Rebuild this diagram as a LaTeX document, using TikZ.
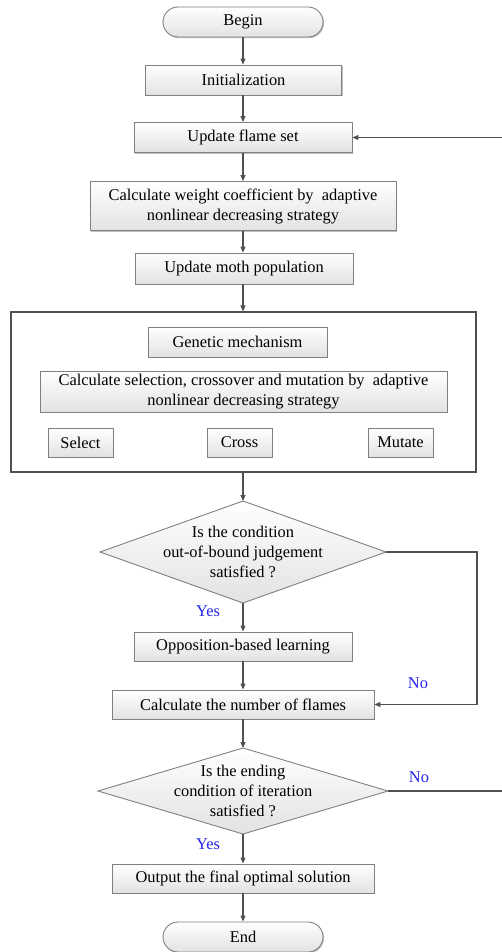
\documentclass[tikz,border=0pt]{standalone}
\usepackage{fontspec}
\setmainfont{Liberation Serif}
\usetikzlibrary{arrows.meta,shadows,calc}
\definecolor{lc}{HTML}{505050}
\definecolor{bc}{HTML}{808080}
\definecolor{boxbot}{HTML}{E2E2E2}
\definecolor{lblblue}{HTML}{2323E6}
\tikzset{
  proc/.style={draw=bc, line width=0.9pt, top color=white, bottom color=boxbot,
    inner sep=0pt, align=center, font=\fontsize{16.4}{20}\selectfont,
    drop shadow={shadow xshift=1pt, shadow yshift=-1.2pt, opacity=0.25, fill=black}},
  term/.style={proc, rounded corners=15pt},
  conn/.style={draw=lc, line width=1.1pt, -{Triangle[length=6pt,width=5pt]}},
  plain/.style={draw=lc, line width=1.1pt},
  txt/.style={inner sep=0pt, align=center, font=\fontsize{16.4}{20}\selectfont},
  lbl/.style={inner sep=0pt, text=lblblue, font=\fontsize{16.4}{20}\selectfont},
}
\begin{document}
\begin{tikzpicture}[x=1pt,y=-1pt]
\useasboundingbox (0,0) rectangle (501,952);
% boxes
\node[term, minimum width=160, minimum height=30] (begin) at (243,22) {Begin};
\node[proc, minimum width=196, minimum height=30] (init) at (243.5,80) {Initialization};
\node[proc, minimum width=218, minimum height=30] (flame) at (243,137.5) {Update flame set};
\node[proc, minimum width=306, minimum height=49] (weight) at (243,206) {Calculate weight coefficient by \ adaptive\\ nonlinear decreasing strategy};
\node[proc, minimum width=218, minimum height=31] (moth) at (244,268.5) {Update moth population};
% big box
\node[draw=lc, line width=1.1pt, minimum width=465, minimum height=160, inner sep=0pt] (big) at (243.5,392) {};
\node[proc, minimum width=179, minimum height=30] (gen) at (237.5,342) {Genetic mechanism};
\node[proc, minimum width=407, minimum height=41] (sel) at (243.5,391.5) {Calculate selection, crossover and mutation by \ adaptive\\ nonlinear decreasing strategy};
\node[proc, minimum width=65, minimum height=29] (select) at (80.5,442.5) {Select};
\node[proc, minimum width=65, minimum height=29] (cross) at (239.5,442.5) {Cross};
\node[proc, minimum width=65, minimum height=29] (mutate) at (400.5,442.5) {Mutate};
% diamond 1
\coordinate (d1) at (243,552);
\coordinate (d1n) at (243,501);
\coordinate (d1s) at (243,603);
\coordinate (d1e) at (386,552);
\coordinate (d1w) at (100,552);
\shade[top color=white, bottom color=boxbot] (d1n) -- (d1e) -- (d1s) -- (d1w) -- cycle;
\draw[draw=bc, line width=0.9pt] (d1n) -- (d1e) -- (d1s) -- (d1w) -- cycle;
\node[txt] (d1t) at (d1) {Is the condition\\ out-of-bound judgement\\ satisfied ?};
\node[proc, minimum width=218, minimum height=29] (opp) at (243,646.5) {Opposition-based learning};
\node[proc, minimum width=262, minimum height=29] (flames) at (243,704.5) {Calculate the number of flames};
% diamond 2
\coordinate (d2) at (243,791);
\coordinate (d2n) at (243,748);
\coordinate (d2s) at (243,834);
\coordinate (d2e) at (388,791);
\coordinate (d2w) at (98,791);
\shade[top color=white, bottom color=boxbot] (d2n) -- (d2e) -- (d2s) -- (d2w) -- cycle;
\draw[draw=bc, line width=0.9pt] (d2n) -- (d2e) -- (d2s) -- (d2w) -- cycle;
\node[txt] (d2t) at (d2) {Is the ending\\ condition of iteration\\ satisfied ?};
\node[proc, minimum width=262, minimum height=29] (out) at (243,878.5) {Output the final optimal solution};
\node[term, minimum width=160, minimum height=30] (end) at (243,937) {End};
% connectors
\draw[conn] (begin) -- (init.north -| begin.south);
\draw[conn] (init.south -| flame.north) -- (flame);
\draw[conn] (flame) -- (weight);
\draw[conn] (weight) -- (moth.north -| weight.south);
\draw[conn] (moth.south -| weight.south) -- (big.north -| weight.south);
\draw[conn] (big.south -| d1n) -- (d1n);
\draw[conn] (d1s) -- (opp);
\draw[conn] (opp) -- (flames);
\draw[conn] (flames) -- (d2n);
\draw[conn] (d2s) -- (out);
\draw[conn] (out) -- (end);
% No branches
\coordinate (r1c) at (477,552);
\draw[conn] (d1e) -- (r1c) |- (flames.east);
\coordinate (r2) at (503,791);
\draw[plain] (d2e) -- (r2);
\coordinate (r3) at (503,137.5);
\draw[conn] (r3) -- (flame.east);
% labels
\node[lbl] (yes1) at (208,611) {Yes};
\node[lbl] (no1) at (418,683) {No};
\node[lbl] (no2) at (419,777) {No};
\node[lbl] (yes2) at (208,844) {Yes};
\end{tikzpicture}
\end{document}
